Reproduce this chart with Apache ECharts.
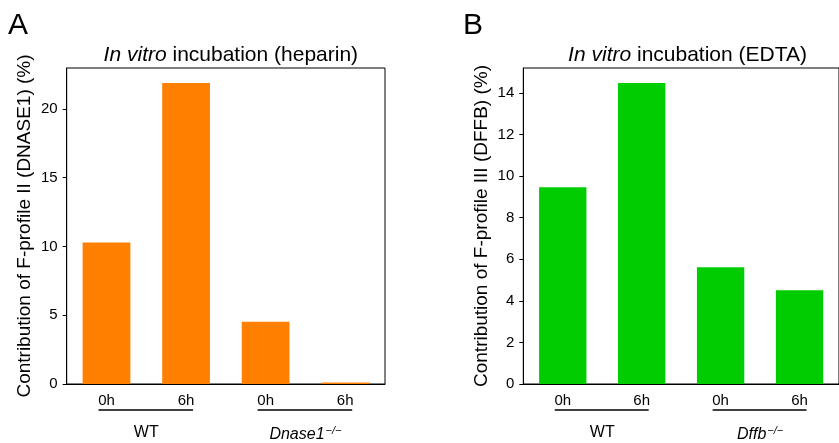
<!DOCTYPE html>
<html>
<head>
<meta charset="utf-8">
<script src="https://cdn.jsdelivr.net/npm/echarts@6/dist/echarts.min.js"></script>
<style>
  html, body { margin: 0; padding: 0; background: #fff; }
  #chart { width: 839px; height: 443px; }
</style>
</head>
<body>
<div id="chart"></div>
<script>
// data
var times = ['0h', '6h', '0h', '6h'];
var groupsA = ['WT', 'Dnase1'];
var groupsB = ['WT', 'Dffb'];
var valuesA = [10.28, 21.88, 4.52, 0.1];   // DNASE1, heparin
var valuesB = [9.46, 14.47, 5.61, 4.51];   // DFFB, EDTA
var ticksA = [0, 5, 10, 15, 20];
var ticksB = [0, 2, 4, 6, 8, 10, 12, 14];
var yMaxA = 22.97;
var yMaxB = 15.19;

var FONT = 'Liberation Sans';
var ORANGE = '#ff8000';
var GREEN = '#00cc00';

var grids = [
    { left: 66.7, top: 68, width: 318.3, height: 318.7 },
    { left: 523.3, top: 68, width: 318.5, height: 318.7 }
];

function groupLabel(g) {
    if (g === 'WT') return 'WT';
    return '{i|' + g + '}{sup|\u2212/\u2212}';
}

function timeAxis(gi) {
    return {
        type: 'category',
        gridIndex: gi,
        data: times,
        position: 'bottom',
        axisLine: { lineStyle: { color: '#000', width: 1 } },
        axisTick: { alignWithLabel: true, length: 4, lineStyle: { color: '#000' } },
        axisLabel: { color: '#000', fontFamily: FONT, fontSize: 15, margin: 9, interval: 0 },
        splitLine: { show: false }
    };
}

function groupAxis(gi, groups) {
    return {
        type: 'category',
        gridIndex: gi,
        data: groups,
        position: 'bottom',
        offset: 33,
        axisLine: { show: false },
        axisTick: { show: false },
        splitLine: { show: false },
        axisLabel: {
            interval: 0,
            hideOverlap: false,
            color: '#000', fontFamily: FONT, fontSize: 16,
            formatter: groupLabel,
            rich: {
                i: { fontStyle: 'italic', fontFamily: FONT, fontSize: 16, color: '#000' },
                sup: { fontFamily: FONT, fontStyle: 'italic', fontSize: 11, color: '#000', padding: [0, 0, 9, 1] }
            }
        }
    };
}

function valueAxis(gi, max, ticks, name) {
    return {
        type: 'value',
        gridIndex: gi,
        min: 0,
        max: max,
        name: name,
        nameLocation: 'middle',
        nameGap: 32,
        nameTextStyle: { color: '#000', fontFamily: FONT, fontSize: 19 },
        axisLine: { show: true, lineStyle: { color: '#000', width: 1 } },
        axisTick: { show: true, length: 4, lineStyle: { color: '#000' }, customValues: ticks },
        axisLabel: { color: '#000', fontFamily: FONT, fontSize: 15, margin: 9, customValues: ticks },
        splitLine: { show: false }
    };
}

function panelTitle(gi, word) {
    var g = grids[gi];
    return {
        text: '{i|In vitro} incubation (' + word + ')',
        left: g.left + g.width / 2,
        top: 40,
        textAlign: 'center',
        textStyle: {
            color: '#000', fontFamily: FONT, fontSize: 21, fontWeight: 'normal',
            rich: { i: { fontStyle: 'italic', fontFamily: FONT, fontSize: 21, color: '#000' } }
        }
    };
}

var chart = echarts.init(document.getElementById('chart'), null, { renderer: 'canvas' });

var option = {
    backgroundColor: '#fff',
    animation: false,
    title: [
        { text: 'A', left: 3, top: 6, textStyle: { color: '#000', fontFamily: FONT, fontSize: 30, fontWeight: 'normal' } },
        { text: 'B', left: 458, top: 6, textStyle: { color: '#000', fontFamily: FONT, fontSize: 30, fontWeight: 'normal' } },
        panelTitle(0, 'heparin'),
        panelTitle(1, 'EDTA')
    ],
    grid: grids.map(function (g) {
        return { left: g.left, top: g.top, width: g.width, height: g.height, show: true, borderColor: '#000', borderWidth: 1, backgroundColor: 'transparent' };
    }),
    xAxis: [timeAxis(0), groupAxis(0, groupsA), timeAxis(1), groupAxis(1, groupsB)],
    yAxis: [
        valueAxis(0, yMaxA, ticksA, 'Contribution of F-profile II (DNASE1) (%)'),
        valueAxis(1, yMaxB, ticksB, 'Contribution of F-profile III (DFFB) (%)')
    ],
    series: [
        { type: 'bar', xAxisIndex: 0, yAxisIndex: 0, data: valuesA, barWidth: '60%', itemStyle: { color: ORANGE } },
        { type: 'bar', xAxisIndex: 2, yAxisIndex: 1, data: valuesB, barWidth: '60%', itemStyle: { color: GREEN } }
    ]
};
chart.setOption(option);

// underline under each group (0h..6h pair), placed from the axes
var lines = [];
[0, 1].forEach(function (gi) {
    var xi = gi * 2;
    var y0 = chart.convertToPixel({ yAxisIndex: gi }, 0) + 26;
    [0, 1].forEach(function (k) {
        var c1 = chart.convertToPixel({ xAxisIndex: xi }, 2 * k);
        var c2 = chart.convertToPixel({ xAxisIndex: xi }, 2 * k + 1);
        lines.push({
            type: 'line',
            shape: { x1: c1 - 8, y1: y0, x2: c2 + 7, y2: y0 },
            style: { stroke: '#000', lineWidth: 1.5 }
        });
    });
});
chart.setOption({ graphic: lines });
</script>
</body>
</html>
